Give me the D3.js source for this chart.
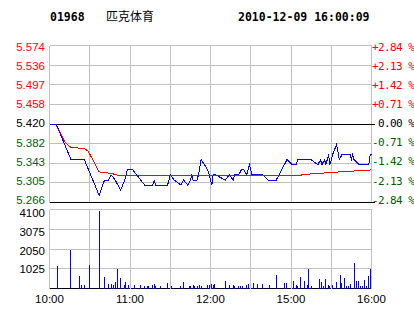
<!DOCTYPE html>
<html><head><meta charset="utf-8">
<script src="https://cdn.jsdelivr.net/npm/d3@7"></script>
<style>body{margin:0;background:#fff}svg{display:block}</style>
</head><body><script>
const stockCode = "01968";
const stockName = "匹克体育";
const stamp = "2010-12-09 16:00:09";
const prevClose = 5.420;
const priceLabels = ["5.574","5.536","5.497","5.458","5.420","5.382","5.343","5.305","5.266"];
const pctLabels = ["+2.84 %","+2.13 %","+1.42 %","+0.71 %"," 0.00 %","-0.71 %","-1.42 %","-2.13 %","-2.84 %"];
const volLabels = ["4100","3075","2050","1025"];
const timeLabels = ["10:00","11:00","12:00","15:00","16:00"];
const timeSlots = [0,60,120,180,240];

const priceMin = [0,5,16,26,37,41,44,46,49,53,56,58,62,71,77,78,79,88,90,93,98,100,103,105,106,107,110,111,113,118,121,122,124,131,134,137,138,141,143,145,147,149,151,159,163,169,173,177,181,184,185,195,200,202,203,205,206,207,208,209,211,214,216,218,224,225,226,227,231,237,238,239,240];
const price = [5.42,5.42,5.35,5.35,5.28,5.31,5.31,5.32,5.31,5.29,5.31,5.33,5.33,5.30,5.30,5.31,5.30,5.30,5.32,5.31,5.30,5.31,5.30,5.31,5.32,5.31,5.31,5.32,5.35,5.33,5.30,5.32,5.32,5.31,5.32,5.31,5.32,5.32,5.33,5.33,5.32,5.34,5.32,5.32,5.31,5.31,5.33,5.35,5.34,5.34,5.35,5.35,5.34,5.35,5.34,5.35,5.34,5.35,5.36,5.34,5.36,5.38,5.35,5.36,5.36,5.35,5.36,5.35,5.34,5.34,5.34,5.36,5.36];

const avgMin = [0,5,12,16,26,29,37,46,52,180,186,190,200,210,222,235,240];
const avg = [5.420,5.418,5.383,5.374,5.372,5.366,5.326,5.323,5.319,5.319,5.319,5.321,5.323,5.325,5.327,5.329,5.330];

const volMin = [6,16,22,24,26,30,37,41,44,46,48,49,51,53,56,57,59,63,68,71,73,74,77,78,79,83,88,91,98,100,104,105,107,108,110,112,113,118,119,121,122,123,131,134,137,138,141,142,144,147,148,152,155,159,164,169,175,177,182,184,185,187,190,192,193,195,201,203,204,206,208,209,211,214,217,218,220,221,223,224,227,229,230,232,233,235,236,238,239];
const vol = [1160,1990,640,170,170,1210,4010,590,225,225,170,330,1000,535,170,330,170,170,170,120,120,120,170,225,120,120,275,120,120,330,120,120,170,120,120,170,120,170,170,225,170,225,380,170,170,120,120,120,120,170,225,275,225,225,170,690,275,275,380,170,120,590,380,170,1000,120,480,330,120,480,170,120,170,330,690,275,535,120,120,225,1313,380,380,120,120,430,120,640,1000];

const W = 414, H = 314;
const svg = d3.select("body").append("svg").attr("width", W).attr("height", H);

const x = d3.scaleLinear().domain([0,240]).range([49.5,371.5]);
const lo = +(prevClose*(1-0.0284)).toFixed(3), hi = +(prevClose*(1+0.0284)).toFixed(3);
const y = d3.scaleLinear().domain([lo,hi]).range([202.5,45.5]);
const yv = d3.scaleLinear().domain([0,4100]).range([288.5,209.5]);
const snap = v => Math.round(v - 0.5) + 0.5;
const grid = "#c0c0c0";
const red = "#ff0000", green = "#005f00";

// header
const mono = "'DejaVu Sans Mono', monospace";
svg.append("text").attr("x",50).attr("y",20.5).attr("font-family",mono).attr("font-weight","bold").attr("font-size",11.5).text(stockCode);
svg.append("text").attr("x",106).attr("y",20.5).attr("font-family","'Noto Sans CJK SC'").attr("font-size",12).text(stockName);
svg.append("text").attr("x",238).attr("y",20.5).attr("font-family",mono).attr("font-weight","bold").attr("font-size",11.5).text(stamp);

// price grid
const pTicks = d3.range(9).map(i => lo + (hi-lo)*i/8);
const gP = svg.append("g").attr("shape-rendering","crispEdges");
gP.selectAll(".h").data(pTicks).join("line")
  .attr("x1",x(0)).attr("x2",x(240)).attr("y1",d=>snap(y(d))).attr("y2",d=>snap(y(d))).attr("stroke",grid);
gP.selectAll(".v").data(d3.range(0,241,30)).join("line")
  .attr("x1",d=>snap(x(d))).attr("x2",d=>snap(x(d))).attr("y1",y(hi)).attr("y2",y(lo)).attr("stroke",grid);
gP.append("line").attr("x1",x(0)).attr("x2",x(240)+3).attr("y1",snap(y(prevClose))).attr("y2",snap(y(prevClose))).attr("stroke","#000");
gP.append("line").attr("x1",x(0)).attr("x2",x(240)+3).attr("y1",snap(y(lo))).attr("y2",snap(y(lo))).attr("stroke","#000");

// volume grid
const vTicks = [0,1025,2050,3075,4100];
const gV = svg.append("g").attr("shape-rendering","crispEdges");
gV.selectAll(".h").data(vTicks).join("line")
  .attr("x1",x(0)).attr("x2",x(240)).attr("y1",d=>snap(yv(d))).attr("y2",d=>snap(yv(d))).attr("stroke",d=>d===0?"#000":grid);
gV.selectAll(".v").data(d3.range(0,241,30)).join("line")
  .attr("x1",d=>snap(x(d))).attr("x2",d=>snap(x(d))).attr("y1",yv(4100)).attr("y2",yv(0)).attr("stroke",grid);

// lines
const avgData = avgMin.map((m,i)=>[m,avg[i]]);
const priceData = priceMin.map((m,i)=>[m,price[i]]);
const line = d3.line().x(d=>x(d[0])).y(d=>y(d[1]));
svg.append("path").datum(avgData).attr("d",line).attr("fill","none").attr("stroke",red).attr("stroke-width",1).attr("shape-rendering","crispEdges");
svg.append("path").datum(priceData).attr("d",line).attr("fill","none").attr("stroke","#0000ff").attr("stroke-width",1).attr("shape-rendering","crispEdges");

// volume bars
svg.append("g").attr("shape-rendering","crispEdges").selectAll("line").data(volMin.map((m,i)=>[m,vol[i]])).join("line")
  .attr("x1",d=>snap(x(d[0]))).attr("x2",d=>snap(x(d[0]))).attr("y1",yv(0)).attr("y2",d=>yv(d[1])).attr("stroke","#0000ff");

// price labels
const sans = "'Liberation Sans', Arial, sans-serif";
const labY = d3.scaleLinear().domain([0,8]).range([47,199.7]);
svg.append("g").selectAll("text").data(priceLabels).join("text")
  .attr("x",45).attr("y",(d,i)=>labY(i)).attr("dy","0.36em").attr("text-anchor","end")
  .attr("font-family",sans).attr("font-size",11.5)
  .attr("fill",(d,i)=>i<4?red:(i===4?"#000":green)).text(d=>d);
svg.append("g").selectAll("text").data(pctLabels).join("text")
  .attr("x",372).attr("y",(d,i)=>labY(i)).attr("dy","0.36em").attr("xml:space","preserve").style("white-space","pre")
  .attr("font-family",mono).attr("font-size",11).attr("letter-spacing",-0.6)
  .attr("fill",(d,i)=>i<4?red:(i===4?"#000":green)).text(d=>d);

// volume labels
const vLabY = d3.scaleLinear().domain([0,3]).range([213.3,269]);
svg.append("g").selectAll("text").data(volLabels).join("text")
  .attr("x",45).attr("y",(d,i)=>vLabY(i)).attr("dy","0.36em").attr("text-anchor","end")
  .attr("font-family",sans).attr("font-size",11.5).attr("fill","#000").text(d=>d);

// time labels
svg.append("g").selectAll("text").data(timeLabels).join("text")
  .attr("x",(d,i)=>x(timeSlots[i])).attr("y",302.7).attr("text-anchor","middle")
  .attr("font-family",sans).attr("font-size",11.5).attr("fill","#000").text(d=>d);
</script></body></html>
